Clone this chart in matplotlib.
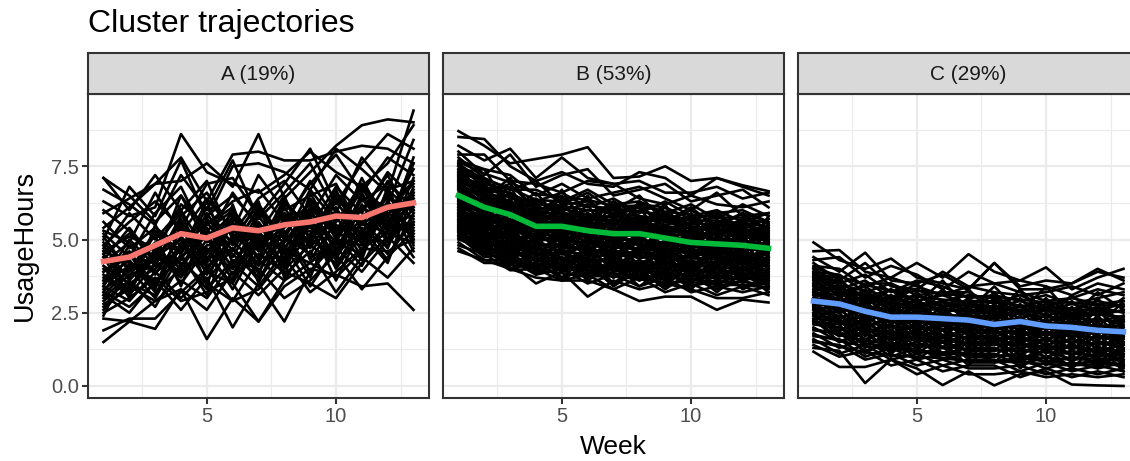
import matplotlib
matplotlib.use("Agg")
import matplotlib.pyplot as plt
from matplotlib.patches import Rectangle

plt.rcParams["font.family"] = ["Liberation Sans", "DejaVu Sans"]

weeks = [1, 2, 3, 4, 5, 6, 7, 8, 9, 10, 11, 12, 13]
titles = ["A (19%)", "B (53%)", "C (29%)"]
mean_colors = ["#F8766D", "#00BA38", "#619CFF"]

mean_a = [4.25, 4.4, 4.8, 5.2, 5.05, 5.4, 5.3, 5.5, 5.6, 5.8, 5.75, 6.1, 6.25]
mean_b = [6.5, 6.1, 5.85, 5.45, 5.45, 5.3, 5.2, 5.2, 5.05, 4.9, 4.85, 4.8, 4.7]
mean_c = [2.9, 2.8, 2.55, 2.35, 2.35, 2.3, 2.25, 2.1, 2.2, 2.05, 2.0, 1.9, 1.85]

lines_a = [
    [1.5, 2.2, 2.9, 3.6, 3.0, 4.2, 3.4, 4.6, 4.2, 5.0, 4.8, 5.2, 5.6],
    [1.9, 2.3, 2.3, 3.2, 4.0, 2.9, 4.3, 3.6, 5.0, 4.4, 5.6, 5.2, 4.9],
    [2.3, 2.2, 1.95, 3.3, 2.6, 3.9, 3.1, 4.0, 4.8, 4.2, 5.1, 5.9, 5.4],
    [2.7, 3.4, 2.9, 3.3, 1.6, 3.0, 2.2, 3.6, 4.2, 3.7, 4.6, 5.5, 6.2],
    [3.1, 2.5, 3.6, 2.6, 3.7, 2.0, 3.5, 2.2, 3.9, 4.9, 4.5, 6.1, 5.2],
    [3.4, 2.9, 3.9, 3.0, 3.9, 3.5, 2.2, 3.4, 4.0, 3.8, 3.4, 3.5, 2.6],
    [7.1, 6.5, 5.6, 6.5, 5.3, 6.0, 4.9, 5.9, 5.1, 6.5, 5.5, 7.0, 6.0],
    [7.1, 6.0, 7.2, 6.0, 7.0, 5.0, 6.2, 5.0, 6.7, 5.6, 6.9, 5.8, 7.4],
    [6.3, 5.8, 6.1, 8.6, 7.3, 6.9, 6.6, 7.2, 8.0, 7.3, 6.8, 7.6, 8.9],
    [5.9, 6.4, 6.9, 7.8, 6.3, 7.9, 8.0, 7.7, 7.7, 8.0, 8.2, 8.1, 7.6],
    [5.4, 6.1, 6.9, 7.0, 7.6, 6.8, 8.6, 6.4, 7.3, 8.2, 8.9, 9.1, 9.0],
    [5.0, 6.8, 5.8, 7.7, 5.7, 7.5, 7.6, 7.3, 6.7, 8.1, 7.4, 6.6, 9.4],
    [4.8, 5.6, 6.3, 5.4, 6.9, 7.1, 5.8, 6.9, 8.1, 6.2, 7.6, 8.6, 8.1],
    [4.5, 5.2, 4.6, 6.2, 5.5, 6.3, 6.7, 5.6, 6.9, 7.9, 6.6, 7.8, 7.2],
    [4.4, 3.7, 5.2, 4.5, 6.1, 4.8, 6.0, 5.2, 6.3, 5.3, 6.7, 6.0, 7.0],
    [4.2, 4.9, 3.8, 5.1, 4.2, 5.5, 4.4, 6.1, 4.7, 6.0, 5.2, 6.5, 5.7],
    [4.0, 3.3, 4.5, 3.7, 5.0, 4.1, 5.6, 4.5, 5.7, 4.3, 6.2, 4.9, 6.6],
    [3.9, 4.6, 3.4, 4.9, 3.6, 4.7, 3.9, 5.3, 3.9, 5.1, 4.1, 5.7, 4.4],
    [3.7, 3.1, 4.2, 5.6, 4.4, 3.5, 5.1, 4.2, 5.5, 3.6, 5.4, 4.3, 5.9],
    [3.6, 4.3, 3.2, 4.0, 5.3, 4.5, 3.7, 4.8, 3.4, 4.7, 3.9, 5.0, 6.5],
    [3.3, 3.9, 4.9, 3.5, 4.7, 3.3, 4.9, 3.8, 4.6, 3.2, 4.4, 3.7, 4.7],
    [3.2, 2.7, 3.5, 4.4, 3.3, 4.3, 4.0, 3.0, 3.6, 4.5, 3.3, 4.4, 5.3],
    [2.9, 3.6, 2.7, 4.2, 3.5, 2.9, 3.3, 4.4, 3.2, 3.9, 4.7, 4.6, 5.0],
    [5.2, 4.4, 5.9, 6.8, 5.0, 5.9, 4.6, 6.3, 5.4, 6.8, 5.9, 7.3, 6.4],
    [5.6, 4.7, 5.4, 4.8, 5.8, 6.5, 5.5, 4.9, 6.1, 5.1, 7.1, 5.4, 7.8],
    [6.0, 5.3, 4.2, 5.8, 6.6, 5.2, 6.4, 7.0, 5.8, 7.2, 6.3, 6.9, 6.1],
    [4.7, 5.9, 5.0, 6.0, 4.5, 5.7, 5.0, 5.5, 7.0, 5.7, 6.0, 7.2, 5.5],
    [4.1, 3.5, 4.0, 4.7, 5.2, 3.8, 5.3, 4.1, 5.2, 5.5, 4.9, 6.3, 4.6],
    [3.5, 4.1, 4.4, 3.9, 4.8, 4.9, 4.2, 5.7, 4.4, 4.8, 5.7, 4.7, 6.8],
    [5.3, 4.9, 6.6, 5.2, 6.4, 5.3, 7.2, 6.0, 6.5, 6.9, 5.3, 6.2, 8.4],
    [6.7, 6.2, 5.5, 7.2, 6.0, 7.7, 5.7, 6.6, 7.6, 5.9, 7.8, 6.7, 7.0],
    [4.9, 4.0, 4.8, 5.9, 4.0, 5.1, 4.7, 6.4, 5.0, 6.4, 5.5, 5.6, 5.8],
    [2.5, 3.0, 3.7, 2.9, 3.2, 3.7, 4.5, 3.9, 3.5, 3.0, 4.2, 5.1, 4.2],
    [4.3, 5.4, 4.3, 6.5, 4.9, 6.6, 5.4, 4.7, 6.0, 4.6, 6.4, 5.3, 6.3],
    [3.0, 3.8, 4.1, 4.6, 5.6, 4.4, 5.9, 5.1, 4.5, 5.9, 5.0, 5.8, 5.1],
    [3.8, 3.2, 4.7, 5.3, 4.3, 5.8, 4.8, 5.4, 6.2, 5.2, 5.8, 6.4, 6.0],
    [4.6, 4.2, 3.6, 4.3, 5.9, 4.6, 6.1, 4.3, 5.6, 6.1, 4.6, 6.6, 5.0],
    [2.8, 3.3, 4.6, 3.8, 4.6, 5.4, 4.1, 5.0, 5.3, 4.1, 5.6, 4.5, 5.6],
    [3.2, 4.5, 3.3, 5.5, 3.8, 5.0, 5.2, 4.0, 5.9, 4.9, 6.5, 5.5, 6.7],
    [4.4, 3.0, 5.5, 4.1, 5.4, 4.0, 5.8, 4.6, 6.4, 5.4, 4.3, 6.8, 4.8],
    [3.6, 5.0, 4.1, 5.7, 3.4, 6.2, 3.8, 5.8, 4.9, 6.3, 5.1, 6.0, 6.9],
    [5.1, 3.9, 5.3, 4.6, 6.3, 4.2, 5.2, 6.5, 4.3, 5.6, 6.8, 5.2, 7.6],
    [2.6, 3.5, 3.1, 4.8, 4.1, 4.7, 3.6, 4.9, 5.8, 4.0, 5.3, 4.8, 6.1],
    [3.4, 4.8, 3.9, 4.4, 5.1, 3.6, 5.5, 4.5, 5.1, 6.6, 5.5, 6.2, 5.3],
    [4.5, 3.4, 4.4, 5.0, 3.9, 5.6, 4.3, 6.2, 5.5, 4.5, 6.1, 5.6, 6.4],
    [3.9, 4.4, 5.1, 3.4, 5.7, 4.9, 6.3, 3.7, 6.6, 5.0, 6.9, 5.4, 5.5],
    [4.8, 3.6, 4.6, 5.5, 4.5, 6.0, 4.6, 5.9, 4.8, 6.7, 4.8, 6.7, 5.9],
    [3.1, 4.0, 3.0, 4.5, 3.1, 5.2, 4.4, 4.4, 6.0, 4.7, 5.2, 4.2, 6.6],
    [2.4, 4.2, 3.4, 5.4, 4.6, 4.0, 4.9, 5.2, 3.7, 5.8, 4.4, 6.3, 5.2],
    [4.6, 5.1, 4.7, 4.0, 5.5, 6.1, 3.5, 5.5, 5.7, 4.4, 6.6, 5.0, 7.1],
]

lines_b = [
    [8.7, 8.2, 7.6, 7.75, 7.9, 8.15, 7.1, 7.15, 7.5, 7.0, 7.1, 6.85, 6.65],
    [8.5, 8.43, 7.5, 7.0, 7.3, 6.9, 6.8, 7.3, 7.1, 6.5, 7.1, 6.8, 6.5],
    [8.2, 7.7, 8.1, 7.1, 7.8, 7.1, 6.9, 7.0, 6.6, 6.6, 6.8, 6.4, 6.6],
    [8.0, 7.2, 7.9, 6.8, 7.2, 7.4, 6.5, 6.7, 6.9, 6.3, 6.5, 6.7, 6.1],
    [7.9, 7.9, 7.0, 6.9, 6.6, 7.0, 6.9, 6.4, 6.2, 6.5, 6.2, 6.1, 6.3],
    [7.8, 7.1, 6.7, 7.0, 6.2, 6.6, 6.0, 6.5, 5.6, 6.1, 5.4, 5.9, 5.3],
    [7.7, 7.4, 7.2, 6.5, 6.9, 6.4, 6.6, 6.8, 6.4, 6.0, 6.6, 5.8, 5.9],
    [7.6, 6.9, 6.7, 6.7, 6.3, 6.7, 6.2, 6.3, 5.9, 6.2, 5.7, 6.2, 5.8],
    [7.5, 6.4, 7.1, 5.9, 6.5, 5.6, 6.3, 5.4, 6.1, 5.1, 5.9, 4.9, 5.7],
    [7.4, 7.0, 6.4, 6.3, 6.6, 6.1, 6.4, 5.9, 6.3, 5.8, 6.0, 5.6, 5.9],
    [7.4, 6.2, 6.8, 5.4, 6.7, 5.3, 5.9, 6.1, 4.9, 5.9, 5.1, 5.5, 4.6],
    [7.3, 6.6, 6.9, 6.0, 6.2, 6.3, 5.8, 6.1, 5.6, 6.0, 5.5, 5.9, 5.6],
    [7.3, 7.4, 6.0, 6.6, 5.6, 6.5, 5.2, 6.3, 5.2, 5.6, 6.0, 5.0, 5.5],
    [7.2, 7.1, 6.2, 6.4, 5.8, 6.0, 6.0, 5.6, 5.9, 5.5, 5.8, 5.4, 5.7],
    [7.2, 6.3, 5.8, 6.3, 6.0, 5.2, 6.2, 5.0, 5.8, 5.7, 4.7, 5.7, 4.9],
    [7.1, 6.4, 6.5, 5.9, 6.1, 5.7, 6.3, 5.8, 5.5, 5.7, 5.3, 5.7, 5.4],
    [7.1, 6.9, 5.6, 5.7, 6.4, 4.9, 5.7, 5.5, 6.2, 4.7, 5.6, 4.8, 5.2],
    [7.0, 6.7, 6.0, 6.2, 5.6, 5.9, 5.5, 6.0, 5.7, 5.2, 5.6, 5.2, 5.5],
    [7.0, 5.9, 6.6, 5.2, 5.4, 6.2, 4.8, 5.7, 5.0, 5.8, 4.6, 5.6, 5.0],
    [6.9, 6.2, 6.3, 5.7, 5.9, 5.5, 5.7, 5.4, 5.3, 5.6, 5.1, 5.5, 5.2],
    [6.9, 6.8, 5.4, 6.1, 5.0, 5.7, 6.1, 4.7, 5.4, 4.6, 5.5, 4.3, 5.8],
    [6.8, 6.5, 5.8, 6.0, 5.5, 5.8, 5.3, 5.7, 5.2, 5.3, 5.4, 5.0, 5.3],
    [6.8, 5.7, 6.4, 4.9, 5.8, 5.0, 5.6, 4.9, 5.9, 4.9, 4.4, 5.3, 4.4],
    [6.7, 6.0, 6.1, 5.5, 5.7, 5.3, 5.6, 5.2, 5.5, 5.0, 5.2, 5.3, 5.0],
    [6.7, 6.6, 5.2, 5.9, 4.8, 5.4, 4.6, 5.6, 4.4, 5.4, 5.0, 4.6, 4.8],
    [6.6, 6.3, 5.6, 5.8, 5.3, 5.6, 5.1, 5.5, 5.0, 5.3, 4.9, 5.1, 5.1],
    [6.5, 5.8, 5.9, 5.3, 5.6, 5.1, 5.4, 5.0, 5.3, 4.8, 5.0, 4.8, 4.9],
    [6.5, 5.3, 6.2, 4.7, 5.9, 4.4, 5.5, 4.5, 4.8, 5.5, 4.2, 5.4, 4.1],
    [6.4, 6.1, 5.4, 5.6, 5.1, 5.4, 4.9, 5.3, 4.8, 5.1, 4.7, 5.0, 4.7],
    [6.4, 5.5, 5.0, 5.7, 4.6, 5.9, 4.3, 5.1, 4.5, 4.4, 5.3, 4.1, 5.4],
    [6.3, 5.6, 5.7, 5.1, 5.4, 4.9, 5.2, 4.8, 5.1, 4.6, 4.8, 4.6, 4.8],
    [6.3, 6.2, 4.8, 5.2, 5.7, 4.2, 5.0, 5.8, 4.1, 5.0, 4.5, 4.9, 4.0],
    [6.2, 5.9, 5.2, 5.4, 4.9, 5.2, 4.7, 5.1, 4.6, 4.9, 4.5, 4.8, 4.5],
    [6.2, 5.0, 5.9, 4.4, 5.2, 5.5, 4.1, 4.6, 5.4, 3.9, 5.0, 3.9, 5.1],
    [6.1, 5.4, 5.5, 4.9, 5.2, 4.7, 5.0, 4.6, 4.9, 4.4, 4.6, 4.4, 4.6],
    [6.1, 5.8, 4.6, 5.5, 4.3, 5.0, 4.4, 5.0, 3.9, 5.2, 3.8, 4.7, 3.8],
    [6.0, 5.7, 5.0, 5.2, 4.7, 5.0, 4.5, 4.9, 4.4, 4.7, 4.3, 4.6, 4.3],
    [6.0, 4.8, 5.6, 4.2, 4.9, 4.1, 5.3, 4.0, 4.7, 3.8, 4.9, 3.7, 4.4],
    [5.9, 5.2, 5.3, 4.7, 5.0, 4.5, 4.8, 4.4, 4.7, 4.2, 4.4, 4.2, 4.4],
    [5.9, 5.6, 4.4, 5.1, 4.0, 4.8, 3.9, 4.7, 4.2, 4.0, 4.7, 3.6, 4.9],
    [5.8, 5.5, 4.8, 5.0, 4.5, 4.8, 4.3, 4.7, 4.2, 4.5, 4.1, 4.4, 4.1],
    [5.8, 4.7, 5.4, 3.9, 4.7, 3.9, 4.6, 3.7, 4.5, 3.7, 4.2, 4.5, 3.6],
    [5.7, 5.0, 5.1, 4.5, 4.8, 4.3, 4.6, 4.2, 4.5, 4.0, 4.2, 4.0, 4.2],
    [5.7, 5.4, 4.3, 4.8, 3.9, 4.6, 3.7, 4.3, 3.6, 4.6, 3.6, 4.3, 3.9],
    [5.6, 5.3, 4.6, 4.8, 4.3, 4.6, 4.1, 4.5, 4.0, 4.3, 3.9, 4.2, 3.9],
    [5.6, 4.6, 5.2, 4.0, 4.6, 3.7, 4.3, 3.6, 4.3, 3.5, 4.5, 3.5, 4.3],
    [5.5, 4.8, 4.9, 4.3, 4.6, 4.1, 4.4, 4.0, 4.3, 3.8, 4.0, 3.8, 4.0],
    [5.5, 5.2, 4.1, 4.6, 3.7, 4.4, 3.5, 4.2, 3.4, 4.2, 3.4, 4.1, 3.4],
    [5.4, 5.1, 4.4, 4.6, 4.1, 4.4, 3.9, 4.3, 3.8, 4.1, 3.7, 4.0, 3.7],
    [5.4, 4.5, 5.0, 3.8, 4.4, 3.6, 4.2, 3.4, 4.0, 3.3, 4.1, 3.3, 3.7],
    [5.3, 4.6, 4.7, 4.1, 4.4, 3.9, 4.2, 3.8, 4.1, 3.6, 3.8, 3.6, 3.8],
    [5.3, 5.0, 4.0, 4.4, 3.6, 4.2, 3.4, 4.0, 3.3, 3.9, 3.2, 3.9, 3.2],
    [5.2, 4.9, 4.2, 4.4, 3.9, 4.2, 3.7, 4.1, 3.6, 3.9, 3.5, 3.8, 3.5],
    [5.1, 4.4, 4.5, 3.9, 4.2, 3.7, 4.0, 3.6, 3.9, 3.4, 3.6, 3.4, 3.6],
    [5.0, 4.7, 4.0, 4.2, 3.7, 4.0, 3.5, 3.9, 3.4, 3.7, 3.3, 3.6, 3.3],
    [4.9, 4.3, 4.3, 3.8, 4.0, 3.5, 3.8, 3.4, 3.7, 3.2, 3.4, 3.2, 3.4],
    [4.8, 4.5, 3.95, 4.0, 3.6, 3.8, 3.3, 3.7, 3.2, 3.5, 3.1, 3.4, 3.1],
    [4.7, 4.2, 4.2, 3.5, 3.9, 3.05, 3.6, 3.3, 3.5, 3.3, 3.0, 3.0, 3.2],
    [4.6, 4.3, 4.0, 3.7, 3.6, 3.6, 3.3, 2.9, 3.05, 3.05, 2.6, 2.95, 2.85],
    [7.5, 6.8, 6.6, 6.1, 6.0, 6.2, 5.9, 6.2, 6.1, 5.7, 5.9, 6.0, 5.6],
    [6.95, 6.35, 6.15, 5.65, 5.75, 5.45, 5.55, 5.35, 5.45, 5.15, 5.25, 5.15, 5.05],
    [6.45, 5.95, 5.55, 5.25, 5.25, 5.15, 4.95, 5.05, 4.75, 4.85, 4.55, 4.75, 4.55],
    [5.95, 5.45, 5.15, 4.75, 4.85, 4.55, 4.65, 4.35, 4.55, 4.15, 4.25, 4.25, 4.05],
    [5.45, 5.05, 4.55, 4.35, 4.35, 4.15, 4.05, 4.05, 3.75, 3.85, 3.65, 3.75, 3.65],
    [7.15, 6.55, 6.25, 5.85, 5.95, 5.65, 5.85, 5.55, 5.75, 5.35, 5.45, 5.55, 5.25],
    [6.25, 5.65, 5.45, 5.05, 5.05, 4.85, 4.75, 4.65, 4.85, 4.45, 4.65, 4.45, 4.25],
    [5.65, 5.15, 4.75, 4.55, 4.55, 4.25, 4.35, 4.15, 4.05, 4.05, 3.85, 3.95, 3.85],
    [7.65, 7.25, 6.95, 6.55, 6.45, 6.35, 6.15, 6.15, 5.95, 5.85, 5.75, 5.75, 5.55],
    [7.55, 7.05, 6.75, 6.35, 6.3, 6.15, 6.05, 5.95, 5.85, 5.65, 5.65, 5.55, 5.45],
    [7.35, 6.95, 6.55, 6.2, 6.15, 6.0, 5.9, 5.8, 5.7, 5.55, 5.5, 5.45, 5.35],
    [7.25, 6.75, 6.45, 6.05, 6.05, 5.85, 5.75, 5.75, 5.6, 5.45, 5.35, 5.35, 5.25],
    [7.05, 6.65, 6.3, 5.95, 5.85, 5.75, 5.65, 5.6, 5.45, 5.4, 5.3, 5.25, 5.15],
    [6.85, 6.45, 6.2, 5.8, 5.7, 5.6, 5.5, 5.45, 5.35, 5.25, 5.15, 5.1, 4.95],
    [6.75, 6.25, 6.05, 5.6, 5.6, 5.5, 5.4, 5.3, 5.2, 5.1, 5.05, 4.95, 4.85],
    [6.6, 6.15, 5.95, 5.55, 5.5, 5.35, 5.25, 5.25, 5.15, 4.95, 4.95, 4.85, 4.75],
    [6.35, 5.85, 5.65, 5.35, 5.3, 5.05, 5.05, 4.95, 4.9, 4.75, 4.7, 4.65, 4.65],
    [6.15, 5.75, 5.5, 5.15, 5.15, 4.95, 4.85, 4.85, 4.7, 4.65, 4.6, 4.55, 4.45],
    [6.05, 5.55, 5.35, 5.0, 4.95, 4.85, 4.75, 4.7, 4.65, 4.55, 4.45, 4.35, 4.35],
    [5.85, 5.35, 5.2, 4.85, 4.75, 4.65, 4.55, 4.55, 4.45, 4.35, 4.35, 4.3, 4.2],
    [5.75, 5.25, 5.0, 4.65, 4.65, 4.45, 4.45, 4.45, 4.35, 4.25, 4.15, 4.15, 4.15],
    [5.55, 5.1, 4.85, 4.45, 4.5, 4.35, 4.25, 4.25, 4.15, 4.15, 4.05, 4.05, 3.95],
    [5.35, 4.95, 4.65, 4.25, 4.25, 4.05, 4.15, 4.1, 3.95, 3.95, 3.85, 3.85, 3.75],
    [5.25, 4.75, 4.45, 4.15, 4.15, 3.95, 3.95, 3.95, 3.85, 3.75, 3.75, 3.7, 3.55],
    [5.15, 4.65, 4.35, 4.05, 4.05, 3.85, 3.85, 3.75, 3.7, 3.65, 3.55, 3.55, 3.45],
    [5.05, 4.55, 4.25, 3.95, 3.85, 3.75, 3.75, 3.65, 3.55, 3.55, 3.45, 3.45, 3.35],
]

lines_c = [
    [4.9, 4.3, 4.0, 4.35, 3.7, 3.5, 3.3, 4.2, 3.3, 3.3, 3.5, 4.0, 3.6],
    [4.6, 4.64, 3.9, 3.7, 4.2, 3.7, 4.5, 3.9, 3.6, 4.05, 3.3, 3.7, 4.0],
    [4.4, 3.9, 4.55, 3.6, 3.5, 3.8, 3.3, 4.2, 3.4, 3.6, 3.5, 3.9, 3.7],
    [4.3, 4.4, 3.7, 4.1, 3.8, 3.3, 3.9, 3.5, 3.6, 3.4, 3.1, 3.5, 3.3],
    [4.2, 3.6, 4.2, 3.4, 3.3, 3.9, 3.4, 3.2, 3.1, 3.2, 3.4, 3.1, 3.5],
    [4.1, 4.0, 3.4, 3.7, 3.4, 3.1, 3.4, 3.5, 3.2, 2.9, 3.0, 3.3, 3.1],
    [4.0, 3.5, 3.8, 3.2, 3.6, 3.4, 3.0, 3.1, 2.9, 3.1, 2.8, 3.0, 3.2],
    [4.0, 3.0, 3.5, 3.5, 2.8, 3.6, 2.6, 3.4, 2.5, 3.4, 2.4, 3.2, 2.6],
    [3.9, 3.8, 3.2, 3.5, 3.1, 3.2, 3.2, 2.8, 3.1, 2.7, 3.0, 2.8, 2.9],
    [3.9, 3.2, 2.9, 3.0, 3.5, 2.6, 3.3, 2.4, 3.3, 2.3, 3.1, 2.4, 3.0],
    [3.8, 3.3, 3.6, 3.0, 3.3, 2.9, 3.1, 3.0, 2.7, 2.9, 2.6, 2.9, 2.7],
    [3.8, 3.7, 2.7, 3.3, 2.5, 3.3, 2.4, 3.2, 2.2, 3.0, 2.1, 2.7, 2.2],
    [3.7, 3.6, 3.0, 3.3, 2.9, 3.1, 2.8, 2.7, 2.9, 2.6, 2.8, 2.6, 2.8],
    [3.7, 2.8, 3.3, 2.5, 3.2, 2.4, 3.0, 2.3, 3.0, 2.1, 2.9, 2.0, 2.9],
    [3.6, 3.1, 3.4, 2.8, 3.1, 2.7, 2.9, 2.9, 2.5, 2.8, 2.5, 2.7, 2.5],
    [3.6, 3.5, 2.5, 3.1, 2.3, 2.9, 2.2, 3.0, 2.0, 2.7, 2.0, 3.0, 1.9],
    [3.5, 3.4, 2.8, 3.1, 2.7, 2.9, 2.6, 2.6, 2.7, 2.4, 2.6, 2.4, 2.6],
    [3.5, 2.7, 3.1, 2.3, 3.0, 2.1, 2.7, 2.0, 2.8, 1.9, 2.7, 1.8, 2.4],
    [3.4, 2.9, 3.2, 2.6, 2.9, 2.5, 2.7, 2.7, 2.3, 2.6, 2.3, 2.5, 2.3],
    [3.4, 3.3, 2.3, 2.9, 2.1, 2.7, 1.9, 2.8, 1.8, 2.5, 1.8, 2.6, 1.7],
    [3.3, 3.2, 2.6, 2.9, 2.5, 2.7, 2.4, 2.4, 2.5, 2.2, 2.4, 2.2, 2.4],
    [3.3, 2.5, 2.9, 2.1, 2.8, 1.9, 2.5, 1.8, 2.6, 1.7, 2.5, 1.6, 2.2],
    [3.2, 2.7, 3.0, 2.4, 2.7, 2.3, 2.5, 2.5, 2.1, 2.4, 2.1, 2.3, 2.1],
    [3.2, 3.1, 2.1, 2.7, 1.9, 2.5, 1.7, 2.6, 1.6, 2.3, 1.6, 2.4, 1.5],
    [3.1, 3.0, 2.4, 2.7, 2.3, 2.5, 2.2, 2.2, 2.3, 2.0, 2.2, 2.0, 2.2],
    [3.1, 2.3, 2.7, 1.9, 2.6, 1.7, 2.3, 1.6, 2.4, 1.5, 2.3, 1.4, 2.0],
    [3.0, 2.5, 2.8, 2.2, 2.5, 2.1, 2.3, 2.3, 1.9, 2.2, 1.9, 2.1, 1.9],
    [3.0, 2.9, 1.9, 2.5, 1.7, 2.3, 1.5, 2.4, 1.4, 2.1, 1.4, 2.2, 1.3],
    [2.9, 2.8, 2.2, 2.5, 2.1, 2.3, 2.0, 2.0, 2.1, 1.8, 2.0, 1.8, 2.0],
    [2.9, 2.1, 2.5, 1.7, 2.4, 1.5, 2.1, 1.4, 2.2, 1.3, 2.1, 1.2, 1.8],
    [2.8, 2.3, 2.6, 2.0, 2.3, 1.9, 2.1, 2.1, 1.7, 2.0, 1.7, 1.9, 1.7],
    [2.8, 2.7, 1.7, 2.3, 1.5, 2.1, 1.3, 2.2, 1.2, 1.9, 1.2, 2.0, 1.1],
    [2.7, 2.6, 2.0, 2.3, 1.9, 2.1, 1.8, 1.8, 1.9, 1.6, 1.8, 1.6, 1.8],
    [2.7, 1.9, 2.3, 1.5, 2.2, 1.3, 1.9, 1.2, 2.0, 1.1, 1.9, 1.0, 1.6],
    [2.6, 2.1, 2.4, 1.8, 2.1, 1.7, 1.9, 1.9, 1.5, 1.8, 1.5, 1.7, 1.5],
    [2.6, 2.5, 1.5, 2.1, 1.3, 1.9, 1.1, 2.0, 1.0, 1.7, 1.0, 1.8, 0.9],
    [2.5, 2.4, 1.8, 2.1, 1.7, 1.9, 1.6, 1.6, 1.7, 1.4, 1.6, 1.4, 1.6],
    [2.5, 1.7, 2.1, 1.3, 2.0, 1.1, 1.7, 1.0, 1.8, 0.9, 1.7, 0.8, 1.4],
    [2.4, 1.9, 2.2, 1.6, 1.9, 1.5, 1.7, 1.7, 1.3, 1.6, 1.3, 1.5, 1.3],
    [2.4, 2.3, 1.3, 1.9, 1.1, 1.7, 0.9, 1.8, 0.8, 1.5, 0.8, 1.6, 0.7],
    [2.3, 2.2, 1.6, 1.9, 1.5, 1.7, 1.4, 1.4, 1.5, 1.2, 1.4, 1.2, 1.4],
    [2.3, 1.5, 1.9, 1.1, 1.8, 0.9, 1.5, 0.8, 1.6, 0.7, 1.5, 0.6, 1.2],
    [2.2, 1.7, 2.0, 1.4, 1.7, 1.3, 1.5, 1.5, 1.1, 1.4, 1.1, 1.3, 1.1],
    [2.2, 2.1, 1.1, 1.7, 0.9, 1.5, 0.7, 1.6, 0.6, 1.3, 0.6, 1.4, 0.5],
    [2.1, 2.0, 1.4, 1.7, 1.3, 1.5, 1.2, 1.2, 1.3, 1.0, 1.2, 1.0, 1.2],
    [2.0, 1.5, 1.8, 1.2, 1.5, 1.1, 1.3, 1.3, 0.9, 1.2, 0.9, 1.1, 0.9],
    [1.9, 1.8, 1.2, 1.5, 1.1, 1.3, 1.0, 1.0, 1.1, 0.8, 1.0, 0.8, 1.0],
    [1.8, 1.3, 1.6, 1.0, 1.3, 0.9, 1.1, 1.1, 0.7, 1.0, 0.7, 0.9, 0.7],
    [1.7, 1.6, 1.0, 1.3, 0.9, 1.1, 0.8, 0.8, 0.9, 0.6, 0.8, 0.6, 0.8],
    [1.6, 1.1, 1.4, 0.9, 1.1, 0.7, 0.9, 0.9, 0.5, 0.8, 0.5, 0.7, 0.5],
    [1.5, 1.4, 0.9, 1.1, 0.7, 0.9, 0.6, 0.6, 0.7, 0.4, 0.6, 0.4, 0.6],
    [1.4, 1.0, 1.2, 0.7, 0.9, 0.5, 0.7, 0.7, 0.3, 0.6, 0.3, 0.5, 0.3],
    [1.3, 1.2, 0.1, 0.9, 0.4, 0.7, 0.4, 0.4, 0.5, 0.3, 0.4, 0.3, 0.4],
    [1.17, 0.65, 0.65, 0.9, 0.6, 0.03, 0.5, 0.02, 0.4, 0.5, 0.05, 0.02, 0.0],
    [3.75, 3.25, 3.05, 2.85, 2.75, 2.85, 2.55, 2.75, 2.45, 2.65, 2.35, 2.55, 2.25],
    [3.25, 2.85, 2.45, 2.25, 2.25, 2.05, 2.15, 1.95, 2.05, 1.75, 1.85, 1.85, 1.65],
    [2.75, 2.25, 1.95, 1.75, 1.65, 1.65, 1.45, 1.55, 1.45, 1.25, 1.35, 1.15, 1.25],
    [2.25, 1.85, 1.45, 1.35, 1.25, 1.05, 1.15, 0.85, 0.95, 0.85, 0.75, 0.85, 0.65],
    [4.05, 3.75, 3.45, 3.25, 3.25, 3.15, 3.05, 3.05, 2.95, 2.85, 2.85, 2.75, 2.75],
    [3.85, 3.45, 3.25, 3.05, 3.05, 2.95, 2.85, 2.85, 2.75, 2.65, 2.65, 2.55, 2.55],
    [3.65, 3.35, 3.1, 2.95, 2.85, 2.75, 2.75, 2.65, 2.6, 2.55, 2.45, 2.45, 2.35],
    [3.45, 3.15, 2.95, 2.75, 2.65, 2.6, 2.55, 2.5, 2.45, 2.35, 2.3, 2.25, 2.2],
    [3.15, 2.95, 2.75, 2.55, 2.45, 2.45, 2.35, 2.35, 2.25, 2.15, 2.15, 2.05, 2.05],
    [2.95, 2.65, 2.45, 2.25, 2.2, 2.2, 2.15, 2.05, 2.05, 1.95, 1.95, 1.9, 1.85],
    [2.65, 2.35, 2.15, 2.05, 2.0, 1.95, 1.95, 1.85, 1.8, 1.75, 1.7, 1.65, 1.65],
    [2.45, 2.15, 1.95, 1.85, 1.8, 1.75, 1.65, 1.65, 1.6, 1.55, 1.5, 1.45, 1.45],
    [2.15, 1.95, 1.75, 1.65, 1.6, 1.55, 1.45, 1.45, 1.4, 1.35, 1.3, 1.25, 1.2],
    [1.95, 1.75, 1.55, 1.45, 1.4, 1.35, 1.25, 1.25, 1.2, 1.15, 1.1, 1.05, 1.05],
    [1.75, 1.55, 1.35, 1.25, 1.2, 1.15, 1.05, 1.05, 1.0, 0.95, 0.9, 0.95, 0.85],
    [1.55, 1.35, 1.15, 1.05, 1.0, 0.95, 0.85, 0.85, 0.8, 0.75, 0.7, 0.75, 0.75],
]

line_sets = [lines_a, lines_b, lines_c]
mean_sets = [mean_a, mean_b, mean_c]

fig = plt.figure(figsize=(11.3, 4.61), dpi=100)

W, H = 1130, 461
lefts = [88, 443, 798]
panel_w = 341
top, bottom = 94.5, 398
strip_top = 53

for i in range(3):
    ax = fig.add_axes([lefts[i] / W, 1 - bottom / H, panel_w / W, (bottom - top) / H])
    ax.set_xlim(0.4, 13.6)
    ax.set_ylim(-0.41, 9.95)
    ax.set_axisbelow(True)
    ax.set_xticks([5, 10])
    ax.set_yticks([0, 2.5, 5, 7.5])
    ax.set_xticks([2.5, 7.5, 12.5], minor=True)
    ax.set_yticks([1.25, 3.75, 6.25, 8.75], minor=True)
    ax.grid(which="major", color="#EBEBEB", lw=1.6)
    ax.grid(which="minor", color="#EBEBEB", lw=0.8)
    ax.tick_params(which="minor", length=0)
    ax.tick_params(which="major", length=4, width=1.5, color="#333333",
                   labelcolor="#4D4D4D", labelsize=14.5, pad=2.5)
    if i == 0:
        ax.set_yticklabels(["0.0", "2.5", "5.0", "7.5"])
    else:
        ax.tick_params(axis="y", left=False, labelleft=False)
    for s in ax.spines.values():
        s.set_color("#333333")
        s.set_linewidth(1.5)

    for y in line_sets[i]:
        ax.plot(weeks, y, color="black", lw=1.9)
    ax.plot(weeks, mean_sets[i], color=mean_colors[i], lw=4.0)

    # strip on top of the panel
    strip = Rectangle((lefts[i] / W, 1 - top / H), panel_w / W, (top - strip_top) / H,
                      transform=fig.transFigure, facecolor="#D9D9D9",
                      edgecolor="#333333", lw=1.5, clip_on=False)
    fig.add_artist(strip)
    fig.text((lefts[i] + panel_w / 2) / W, 1 - 75 / H, titles[i],
             ha="center", va="center", fontsize=15, color="#1A1A1A")

fig.text(88 / W, 1 - 24 / H, "Cluster trajectories", fontsize=23, ha="left", va="center", color="black")
fig.text(613 / W, 1 - 447 / H, "Week", fontsize=19, ha="center", va="center", color="black")
fig.text(25 / W, 1 - 245 / H, "UsageHours", fontsize=19.5, rotation=90, ha="center", va="center", color="black")

fig.savefig("out.png", dpi=100)
